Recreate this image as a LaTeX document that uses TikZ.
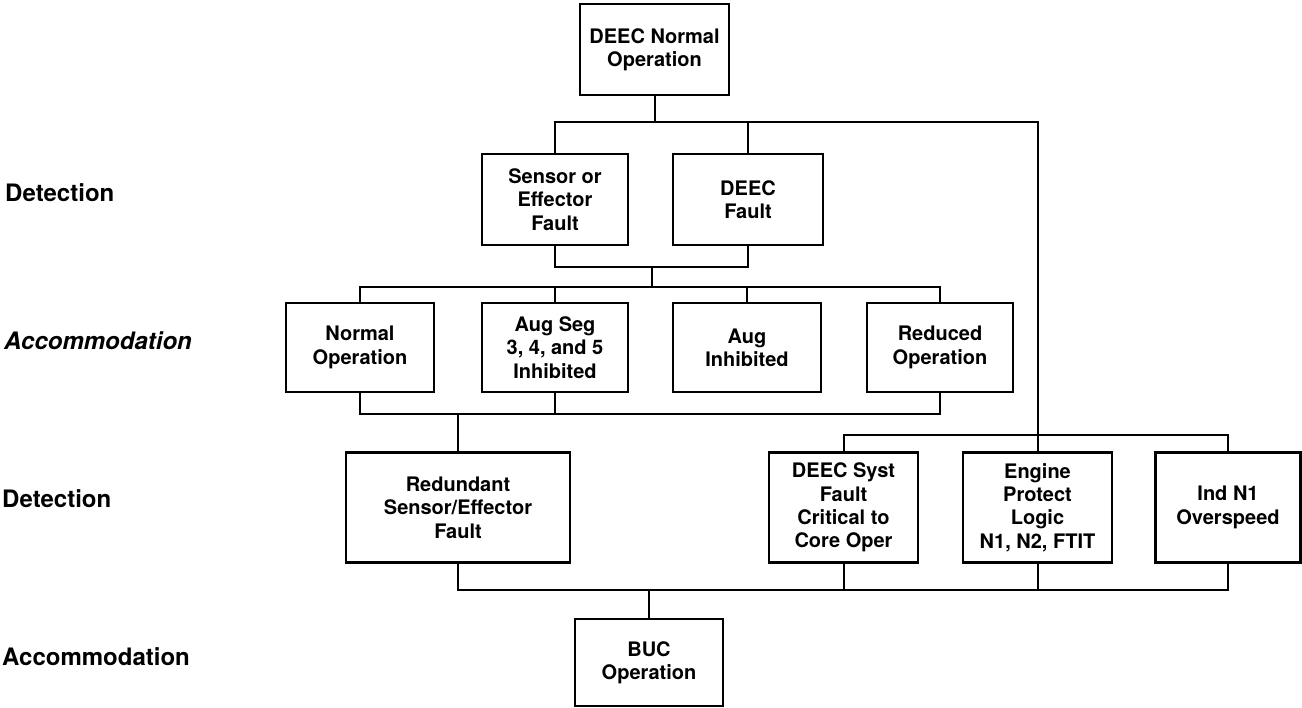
\documentclass[tikz,border=0pt]{standalone}
\usepackage{fontspec}
\setmainfont{TeX Gyre Heros}
\begin{document}
\begin{tikzpicture}[x=1pt,y=-1pt,font=\fontsize{20}{23.3}\selectfont\bfseries,
        box/.style={draw, line width=2.3pt, align=center, inner sep=0pt},
        link/.style={line width=2pt},
        lbl/.style={anchor=west, inner sep=0pt, font=\fontsize{24}{28}\selectfont\bfseries}]
        \useasboundingbox (0,0) rectangle (1302,708);

        \node[lbl] (det1) at (5,193) {Detection};
        \node[lbl] (acc1) at (4,341) {\itshape Accommodation};
        \node[lbl] (det2) at (2,499) {Detection};
        \node[lbl] (acc2) at (2,657) {Accommodation};

        \node[box, minimum width=149pt, minimum height=91pt] (normalop) at (654.5,49.5) {DEEC Normal\\Operation};
        \node[box, minimum width=146pt, minimum height=91pt] (sensor) at (555,199.5) {Sensor or\\Effector\\Fault};
        \node[box, minimum width=150pt, minimum height=91pt] (deecfault) at (748,199.5) {DEEC\\Fault};

        \node[box, minimum width=148pt, minimum height=89pt] (normal) at (360,347.5) {Normal\\Operation};
        \node[box, minimum width=146pt, minimum height=89pt] (augseg) at (555,347.5) {Aug Seg\\3, 4, and 5\\Inhibited};
        \node[box, minimum width=148pt, minimum height=89pt] (auginh) at (747,347.5) {Aug\\Inhibited};
        \node[box, minimum width=146pt, minimum height=89pt] (reduced) at (940,347.5) {Reduced\\Operation};

        \node[box, minimum width=224pt, minimum height=110pt] (redund) at (458,507.5) {Redundant\\Sensor/Effector\\Fault};
        \node[box, minimum width=149pt, minimum height=110pt] (syst) at (843.5,507.5) {DEEC Syst\\Fault\\Critical to\\Core Oper};
        \node[box, minimum width=149pt, minimum height=110pt] (protect) at (1037.5,507.5) {Engine\\Protect\\Logic\\N1, N2, FTIT};
        \node[box, minimum width=145pt, minimum height=110pt] (overspeed) at (1228,507.5) {Ind N1\\Overspeed};

        \node[box, minimum width=148pt, minimum height=87pt] (buc) at (649,662.5) {BUC\\Operation};

        \coordinate (top) at (654.5,122);
        \coordinate (merge) at (652,267);
        \coordinate (split) at (652,287);
        \coordinate (join) at (458,414);
        \coordinate (right) at (1037.5,435);
        \coordinate (bottom) at (649,590);

        \draw[link] (normalop) -- (top);
        \draw[link] (sensor.north) |- (top) -| (deecfault.north);
        \draw[link] (top) -| (protect.north);
        \draw[link] (sensor.south) |- (merge) -| (deecfault.south);
        \draw[link] (merge) -- (split);
        \draw[link] (normal.north) |- (split) -| (reduced.north);
        \draw[link] (augseg.north) -- (augseg.north |- split);
        \draw[link] (auginh.north) -- (auginh.north |- split);
        \draw[link] (normal.south) |- (join) -| (reduced.south);
        \draw[link] (augseg.south) -- (augseg.south |- join);
        \draw[link] (join) -- (redund.north);
        \draw[link] (syst.north) |- (right) -| (overspeed.north);
        \draw[link] (redund.south) |- (bottom) -| (overspeed.south);
        \draw[link] (syst.south) -- (syst.south |- bottom);
        \draw[link] (protect.south) -- (protect.south |- bottom);
        \draw[link] (bottom) -- (buc);
    \end{tikzpicture}
\end{document}
